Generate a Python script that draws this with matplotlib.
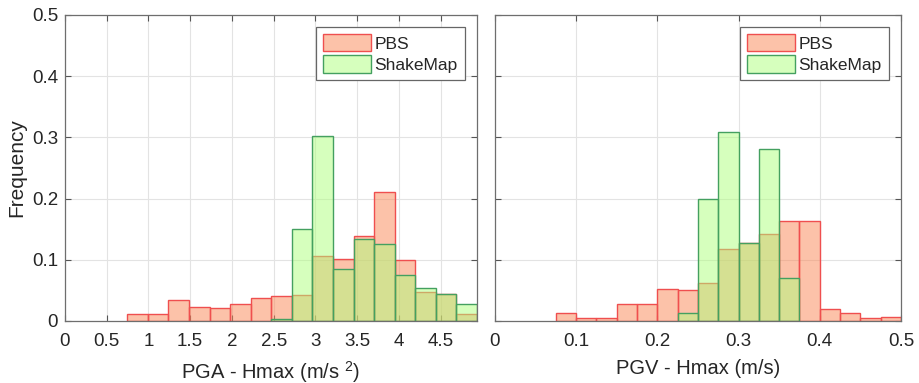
import numpy as np
from matplotlib import pyplot as plt

plt.rcParams['font.family'] = ['Liberation Sans', 'DejaVu Sans']
plt.rcParams['mathtext.default'] = 'regular'

# histogram bins (left edge, bin width, number of bins)
pga_bin_start = 0.747
pga_bin_width = 0.2464
pgv_bin_start = 0.075
pgv_bin_width = 0.025
n_bins = 17

pga_pbs = [0.011, 0.011, 0.034, 0.023, 0.022, 0.028, 0.037, 0.041, 0.043,
           0.106, 0.102, 0.139, 0.211, 0.100, 0.048, 0.044, 0.011]
pga_shakemap = [0, 0, 0, 0, 0, 0, 0, 0.004, 0.151,
                0.303, 0.085, 0.1345, 0.125, 0.075, 0.054, 0.044, 0.028]

pgv_pbs = [0.0125, 0.005, 0.0054, 0.028, 0.027, 0.053, 0.051, 0.0615, 0.117,
           0.127, 0.1416, 0.163, 0.163, 0.0196, 0.0125, 0.005, 0.0065]
pgv_shakemap = [0, 0, 0, 0, 0, 0, 0.0125, 0.200, 0.308,
                0.127, 0.281, 0.070, 0, 0, 0, 0, 0]

pga_xticks = [0, 0.5, 1, 1.5, 2, 2.5, 3, 3.5, 4, 4.5]
pgv_xticks = [0, 0.1, 0.2, 0.3, 0.4, 0.5]
yticks = [0, 0.1, 0.2, 0.3, 0.4, 0.5]

PBS_FACE = (251 / 255, 135 / 255, 85 / 255, 0.5)
PBS_EDGE = '#ef4f4f'
SM_FACE = (175 / 255, 1.0, 125 / 255, 0.5)
SM_EDGE = '#44a060'
TEXT = '#262626'


def draw_hist(ax, start, width, values, face, edge, label):
    values = np.array(values)
    lefts = start + width * np.arange(len(values))
    mask = values > 0
    ax.bar(lefts[mask], values[mask], width=width, align='edge',
           color=face, edgecolor=edge, linewidth=1.0, label=label, zorder=2)


def style_axes(ax, xticks, xlim, show_ylabels):
    ax.set_xlim(xlim)
    ax.set_ylim(0, 0.5)
    ax.set_xticks(xticks)
    ax.set_xticklabels([f'{t:g}' for t in xticks])
    ax.set_yticks(yticks)
    if show_ylabels:
        ax.set_yticklabels([f'{t:g}' for t in yticks])
    else:
        ax.set_yticklabels([])
    ax.grid(True, color='#e3e3e3', linewidth=0.8, zorder=0)
    ax.set_axisbelow(True)
    ax.tick_params(direction='in', length=4, width=0.8, colors='#555555',
                   labelcolor=TEXT, labelsize=13.5, top=True, right=True)
    ax.tick_params(axis='x', pad=9)
    ax.tick_params(axis='y', pad=5)
    for s in ax.spines.values():
        s.set_color('#6e6e6e')
        s.set_linewidth(0.9)
    leg = ax.legend(loc='upper right', fontsize=12.5, fancybox=False,
                    edgecolor='#666666', framealpha=1, handlelength=2.8,
                    handleheight=1.15, handletextpad=0.2, borderaxespad=0.7,
                    borderpad=0.4, labelspacing=0.22)
    leg.get_frame().set_linewidth(0.9)
    for t in leg.get_texts():
        t.set_color(TEXT)


fig = plt.figure(figsize=(9.19, 3.83), dpi=100)
ax1 = fig.add_axes([0.0707, 0.1619, 0.4483, 0.799])
ax2 = fig.add_axes([0.5386, 0.1619, 0.4418, 0.799])

draw_hist(ax1, pga_bin_start, pga_bin_width, pga_pbs, PBS_FACE, PBS_EDGE, 'PBS')
draw_hist(ax1, pga_bin_start, pga_bin_width, pga_shakemap, SM_FACE, SM_EDGE, 'ShakeMap')
style_axes(ax1, pga_xticks, (0, pga_bin_start + n_bins * pga_bin_width), True)
ax1.set_xlabel('PGA - Hmax (m/s $^{2}$)', fontsize=14.5, color=TEXT, labelpad=6)
ax1.set_ylabel('Frequency', fontsize=15, color=TEXT, labelpad=4)

draw_hist(ax2, pgv_bin_start, pgv_bin_width, pgv_pbs, PBS_FACE, PBS_EDGE, 'PBS')
draw_hist(ax2, pgv_bin_start, pgv_bin_width, pgv_shakemap, SM_FACE, SM_EDGE, 'ShakeMap')
style_axes(ax2, pgv_xticks, (0, 0.5), False)
ax2.set_xlabel('PGV - Hmax (m/s)', fontsize=14.5, color=TEXT, labelpad=6)

fig.savefig('out.png', dpi=100)
